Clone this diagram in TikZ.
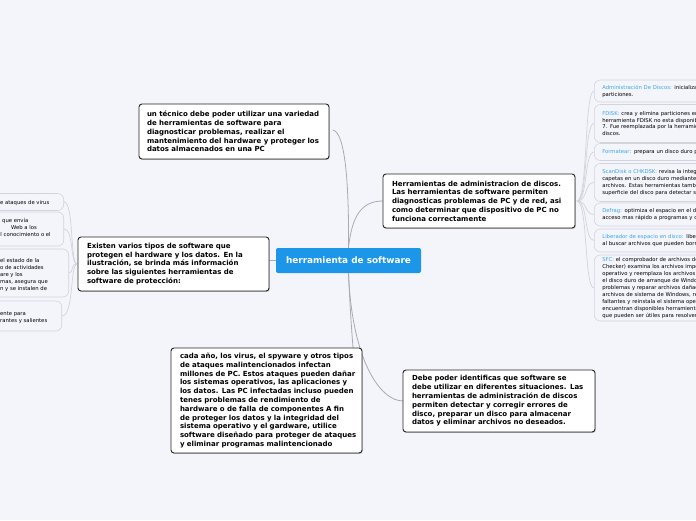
\documentclass[tikz,border=0pt]{standalone}
\usepackage{fontspec}
\setmainfont{DejaVu Sans}
\usetikzlibrary{shadows}
\definecolor{bg}{HTML}{F4F4FB}
\definecolor{cblue}{HTML}{1C96E8}
\definecolor{lblue}{HTML}{3DA5E8}
\definecolor{conn}{HTML}{AAAAB4}
\definecolor{leafline}{HTML}{D3D3DC}
\newcommand{\lb}[1]{\textcolor{lblue}{#1}}
\tikzset{
  mainbox/.style={draw=black!85, line width=0.9pt, fill=white, rounded corners=3pt,
    drop shadow={shadow xshift=0.7pt, shadow yshift=-0.9pt, fill=black!45, opacity=0.6},
    align=left, inner xsep=0pt, inner ysep=0pt,
    font=\fontsize{7}{8.8}\selectfont\bfseries},
  centerbox/.style={fill=cblue, rounded corners=2pt, text=white,
    font=\fontsize{8.9}{10}\selectfont\bfseries, minimum width=145pt, minimum height=25pt, inner sep=0pt},
  conline/.style={draw=conn, line width=0.8pt},
  leafcon/.style={draw=leafline, line width=0.7pt},
  rleaf/.style={draw=leafline, line width=0.6pt, rounded corners=6pt, anchor=west,
    minimum width=220pt, text width=204pt, inner xsep=8pt, inner ysep=0pt, align=left,
    font=\fontsize{5.3}{6.9}\selectfont},
  lleaf/.style={draw=leafline, line width=0.6pt, rounded corners=6pt, anchor=east,
    minimum width=120pt, inner sep=0pt},
  frag/.style={anchor=base west, inner sep=0pt, font=\fontsize{5.3}{6.9}\selectfont}
}
\begin{document}
\begin{tikzpicture}[x=1pt, y=-1pt]
\fill[bg] (0,0) rectangle (696,520);
\useasboundingbox (0,0) rectangle (696,520);
\clip (0,0) rectangle (696,520);

% central node
\node[centerbox] (c) at (348.5,260.5) {herramienta de software};

% main nodes (positions)
\coordinate (Apos) at (234,131.5);
\coordinate (Bpos) at (479,201);
\coordinate (Cpos) at (173.5,264);
\coordinate (Dpos) at (266.5,400.5);
\coordinate (Epos) at (499,401);

% right leaves
\node[rleaf, minimum height=22pt] (r1) at (594,91) {\lb{Administración De Discos:} inicializa discos, crea\\particiones.};
\node[rleaf, minimum height=38pt] (r2) at (594,123.5) {\lb{FDISK:} crea y elimina particiones en el disco duro. La\\herramienta FDISK no esta disponible en Windows\\7. Fue reemplazada por la herramienta de administración de\\discos.};
\node[rleaf, minimum height=17pt] (r3) at (594,152) {\lb{Formatear:} prepara un disco duro para almacenar información.};
\node[rleaf, minimum height=38pt] (r4) at (594,182.5) {\lb{ScanDisk o CHKDSK:} revisa la integridad de los archivos y\\capetas en un disco duro mediante el análisis de la superficie\\archivos. Estas herramientas también pueden revisar la\\superficie del disco para detectar sectores dañados.};
\node[rleaf, minimum height=23pt] (r5) at (594,214.5) {\lb{Defrag:} optimiza el espacio en el disco duro para permitir un\\acceso mas rápido a programas y datos.};
\node[rleaf, minimum height=23pt] (r6) at (594,240.5) {\lb{Liberador de espacio en disco:} libera espacio en el disco\\al buscar archivos que pueden borrarse de manera segura.};
\node[rleaf, minimum height=66pt] (r7) at (594,288) {\lb{SFC:} el comprobador de archivos de sistema (System File\\Checker) examina los archivos importantes del sistema\\operativo y reemplaza los archivos que están dañados. Si\\el disco duro de arranque de Windows presenta\\problemas y reparar archivos dañados, reemplaza los\\archivos de sistema de Windows, restaura los archivos\\faltantes y reinstala el sistema operativo. Se\\encuentran disponibles herramientas de otros fabricantes\\que pueden ser útiles para resolver problemas.};

% left leaves
\node[lleaf, minimum height=17pt] (l1) at (64,202) {};
\node[lleaf, minimum height=34pt] (l2) at (64,229) {};
\node[lleaf, minimum height=48pt] (l3) at (69,273) {};
\node[lleaf, minimum height=30pt] (l4) at (62,316) {};

\node[frag] (f1) at (0,204) {e ataques de virus};
\node[frag] (f2) at (2,222) {que envía};
\node[frag] (f3) at (11,229) {Web a los};
\node[frag] (f4) at (-3,236) {el conocimiento o el};
\node[frag] (f5) at (0,262) {el estado de la};
\node[frag] (f6) at (0,269) {o de actividades};
\node[frag] (f7) at (0,276) {are y los};
\node[frag] (f8) at (0,283) {mas, asegura que};
\node[frag] (f9) at (0,290) {n y se instalen de};
\node[frag] (f10) at (0,315) {ente para};
\node[frag] (f11) at (0,322) {rantes y salientes};

% connectors main
\draw[conline] (c.north) .. controls (349,190) and (346,133) .. (333,130);
\draw[conline] (c.north) .. controls (352,215) and (362,201) .. (383,201);
\draw[conline] (c.west) -- (269,260.5);
\draw[conline] (c.south) .. controls (351,330) and (356,400) .. (362,400);
\draw[conline] (c.south) .. controls (352,360) and (380,401) .. (403,401);

% leaf connectors right
\foreach \n in {r1,r2,r3,r4,r5,r6,r7}{
  \draw[leafcon] (577,201) .. controls (588,201) and (584,0|-\n.west) .. (\n.west);
}
% leaf connectors left
\foreach \n in {l1,l2,l3,l4}{
  \draw[leafcon] (77,264) .. controls (70,264) and (74,0|-\n.east) .. (\n.east);
}

% main nodes drawn on top
\node[mainbox, minimum width=190pt, minimum height=55pt, text width=174pt] (A) at (Apos) {un técnico debe poder utilizar una variedad\\de herramientas de software para\\diagnosticar problemas, realizar el\\mantenimiento del hardware y proteger los\\datos almacenados en una PC};
\node[mainbox, minimum width=192pt, minimum height=54pt, text width=174pt] (B) at (Bpos) {Herramientas de administracion de discos.\\Las herramientas de software permiten\\diagnosticas problemas de PC y de red, asi\\como determinar que dispositivo de PC no\\funciona correctamente};
\node[mainbox, minimum width=191pt, minimum height=54pt, text width=173pt] (C) at (Cpos) {Existen varios tipos de software que\\protegen el hardware y los datos. En la\\ilustración, se brinda más información\\sobre las siguientes herramientas de\\software de protección:};
\node[mainbox, minimum width=191pt, minimum height=105pt, text width=173pt] (D) at (Dpos) {\mbox{cada año, los virus, el spyware y otros tipos}\\\mbox{de ataques malintencionados infectan}\\\mbox{millones de PC. Estos ataques pueden dañar}\\\mbox{los sistemas operativos, las aplicaciones y}\\\mbox{los datos. Las PC infectadas incluso pueden}\\\mbox{tenes problemas de rendimiento de}\\\mbox{hardware o de falla de componentes A fin}\\\mbox{de proteger los datos y la integridad del}\\\mbox{sistema operativo y el gardware, utilice}\\\mbox{software diseñado para proteger de ataques}\\\mbox{y eliminar programas malintencionado}};
\node[mainbox, minimum width=192pt, minimum height=62pt, text width=174pt] (E) at (Epos) {Debe poder identificas que software se\\debe utilizar en diferentes situaciones. Las\\herramientas de administración de discos\\permiten detectar y corregir errores de\\disco, preparar un disco para almacenar\\datos y eliminar archivos no deseados.};
\end{tikzpicture}
\end{document}
